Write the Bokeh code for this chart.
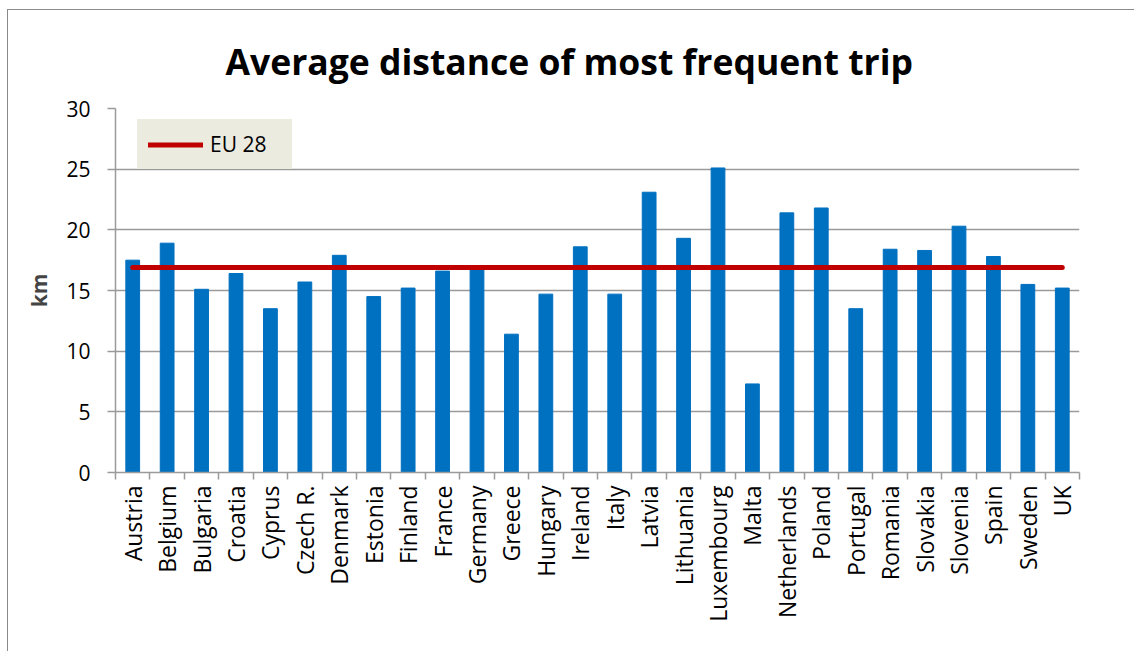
import math
from bokeh.plotting import figure
from bokeh.models import (FactorRange, Range1d, LinearAxis, CategoricalAxis,
                          FixedTicker, Legend, LegendItem)
from bokeh.embed import file_html
from bokeh.resources import INLINE

countries = ["Austria", "Belgium", "Bulgaria", "Croatia", "Cyprus", "Czech R.",
             "Denmark", "Estonia", "Finland", "France", "Germany", "Greece",
             "Hungary", "Ireland", "Italy", "Latvia", "Lithuania", "Luxembourg",
             "Malta", "Netherlands", "Poland", "Portugal", "Romania", "Slovakia",
             "Slovenia", "Spain", "Sweden", "UK"]
distance_km = [17.5, 18.9, 15.1, 16.4, 13.5, 15.7, 17.9, 14.5, 15.2, 16.6,
               16.8, 11.4, 14.7, 18.6, 14.7, 23.1, 19.3, 25.1, 7.3, 21.4,
               21.8, 13.5, 18.4, 18.3, 20.3, 17.8, 15.5, 15.2]
eu28_km = 16.9
eu28_series = [eu28_km] * len(countries)
y_ticks = [0, 5, 10, 15, 20, 25, 30]

FONT = "Open Sans"
GRID = "#9a9a9a"

p = figure(width=1127, height=642, output_backend="svg", toolbar_location=None,
           x_range=FactorRange(*countries, range_padding=0),
           y_range=Range1d(0, 30),
           x_axis_location=None, y_axis_location=None,
           title="Average distance of most frequent trip",
           min_border_left=107, min_border_right=56, min_border_top=97,
           min_border_bottom=180)
p.styles = {"margin-left": "7px", "margin-top": "9px",
            "border-left": "1.5px solid #8a8a8a", "border-top": "1.5px solid #8a8a8a"}

p.title.text_font = FONT
p.title.text_font_size = "35.5px"
p.title.text_font_style = "bold"
p.title.text_color = "black"
p.title.align = "left"
p.title.offset = 110
p.title.standoff = 48

p.outline_line_color = None
p.xgrid.grid_line_color = None

# y axis
yaxis = LinearAxis(ticker=FixedTicker(ticks=y_ticks))
yaxis.axis_label = "km"
yaxis.axis_label_text_font = FONT
yaxis.axis_label_text_font_size = "21px"
yaxis.axis_label_text_font_style = "bold"
yaxis.axis_label_standoff = 10
yaxis.major_label_text_font = FONT
yaxis.major_label_text_font_size = "21px"
yaxis.major_label_text_color = "black"
yaxis.major_label_standoff = 17
yaxis.axis_line_color = GRID
yaxis.axis_line_width = 1.5
yaxis.major_tick_line_color = GRID
yaxis.major_tick_line_width = 1.5
yaxis.major_tick_out = 8
yaxis.major_tick_in = 0
yaxis.minor_tick_line_color = None
p.add_layout(yaxis, "left")

p.ygrid.ticker = FixedTicker(ticks=y_ticks)
p.ygrid.grid_line_color = GRID
p.ygrid.grid_line_width = 1.5

# boundary tick axis (synthetic category coordinates 0..N are the category edges)
edge_axis = LinearAxis(ticker=FixedTicker(ticks=list(range(len(countries) + 1))))
edge_axis.axis_line_color = GRID
edge_axis.axis_line_width = 1.5
edge_axis.major_tick_line_color = GRID
edge_axis.major_tick_line_width = 1.5
edge_axis.major_tick_out = 7
edge_axis.major_tick_in = 0
edge_axis.minor_tick_line_color = None
edge_axis.major_label_text_font_size = "1px"
edge_axis.major_label_text_color = None
edge_axis.major_label_standoff = 0
p.add_layout(edge_axis, "below")

# category label axis
cat_axis = CategoricalAxis()
cat_axis.axis_line_color = None
cat_axis.major_tick_line_color = None
cat_axis.major_tick_out = 0
cat_axis.major_tick_in = 0
cat_axis.major_label_orientation = math.pi / 2
cat_axis.major_label_text_font = FONT
cat_axis.major_label_text_font_size = "23px"
cat_axis.major_label_text_color = "black"
cat_axis.major_label_standoff = 6
p.add_layout(cat_axis, "below")

p.vbar(x=countries, top=distance_km, width=0.4, bottom=0,
       fill_color="#0070C0", line_color="#0070C0")

eu_line = p.line(x=countries, y=eu28_series, line_color="#C00000", line_width=5,
                 line_cap="round")

legend = Legend(items=[LegendItem(label="EU 28", renderers=[eu_line])],
                location=(22, 303))
legend.background_fill_color = "#EBEBE0"
legend.background_fill_alpha = 1
legend.border_line_color = "#EBEBE0"
legend.border_line_width = 1
legend.label_text_font = FONT
legend.label_text_font_size = "21px"
legend.label_text_color = "black"
legend.padding = 10
legend.margin = 0
legend.spacing = 0
legend.glyph_width = 55
legend.glyph_height = 21
legend.label_height = 21
legend.label_width = 71
legend.label_standoff = 7
p.add_layout(legend, "center")

open("out.html", "w").write(file_html(p, INLINE))
